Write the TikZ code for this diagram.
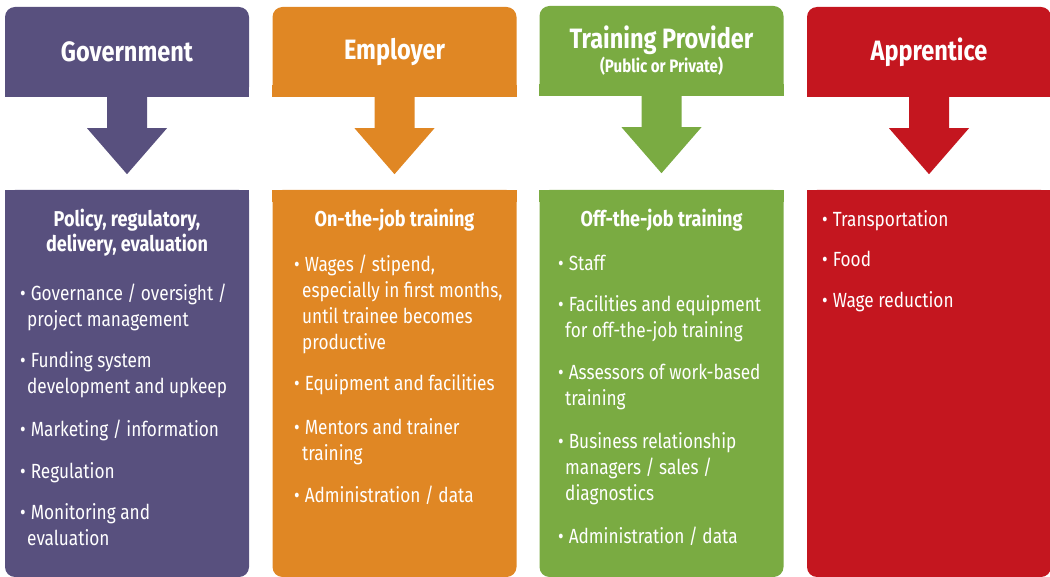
\documentclass[tikz,border=0pt]{standalone}
\usepackage{fontspec}
\setmainfont{Fira Sans}[FakeStretch=0.84]
\usetikzlibrary{calc,backgrounds,positioning}

\definecolor{govcol}{RGB}{88,80,126}
\definecolor{empcol}{RGB}{224,135,36}
\definecolor{procol}{RGB}{122,171,66}
\definecolor{appcol}{RGB}{196,22,31}

% big downward arrow under a header: #1 header node, #2 colour
\newcommand{\downblock}[2]{%
  \fill[#2] ($(#1.south)+(-20,0)$) -- ++(0,31) -- ++(-20,0) -- ($(#1.south)+(0,77)$)
    -- ($(#1.south)+(40,31)$) -- ++(-20,0) -- ($(#1.south)+(20,0)$) -- cycle;}
\newcommand{\bul}{\textbullet\hspace{5pt}}

\begin{document}
\begin{tikzpicture}[x=1pt,y=-1pt]
          \useasboundingbox (0,0) rectangle (1050,577);

          \tikzstyle{head}=[rounded corners=10pt,minimum width=244pt,minimum height=90pt,inner sep=0pt,text=white,align=center,font=\bfseries\fontsize{28}{28}\selectfont]
          \tikzstyle{body}=[rounded corners=10pt,minimum width=244pt,minimum height=387pt,inner sep=0pt]
          \tikzstyle{title}=[anchor=base,align=center,inner sep=0pt,text=white,font=\bfseries\fontsize{21.5}{25}\selectfont]
          \tikzstyle{item}=[anchor=base west,align=left,inner sep=0pt,text=white,font=\fontsize{20.5}{26}\selectfont]

          % headers
          \node[head,fill=govcol] (gov) at (127,52) {Government};
          \node[head,fill=empcol] (emp) at (394.5,52) {Employer};
          \node[head,fill=procol] (pro) at (661.5,51) {Training Provider\\[-4pt]{\fontsize{18}{18}\selectfont(Public or Private)}};
          \node[head,fill=appcol] (app) at (929,52) {Apprentice};

          % bodies
          \node[body,fill=govcol] (govbody) at (127,383.5) {};
          \node[body,fill=empcol] (empbody) at (394.5,383.5) {};
          \node[body,fill=procol] (probody) at (661.5,383.5) {};
          \node[body,fill=appcol] (appbody) at (929,383.5) {};

          % square corners (header bottoms, body tops)
          \begin{scope}[on background layer]
          \foreach \n/\c in {gov/govcol,emp/empcol,pro/procol,app/appcol}{
            \fill[\c] (\n.south west) rectangle ++(12,-12);
            \fill[\c] (\n.south east) rectangle ++(-12,-12);
            \fill[\c] (\n body.north west) rectangle ++(12,12);
            \fill[\c] (\n body.north east) rectangle ++(-12,12);
          }
          \end{scope}

          % arrows
          \downblock{gov}{govcol}
          \downblock{emp}{empcol}
          \downblock{pro}{procol}
          \downblock{app}{appcol}

          % government (multi-line nodes sit on their last line)
          \node[title] (govtitle) at (127,252) {Policy, regulatory,\\delivery, evaluation};
          \node[item] (gov1) at (20,327) {\bul Governance / oversight /\\\hspace*{7pt}project management};
          \node[item] (gov2) at (20,394) {\bul Funding system\\\hspace*{7pt}development and upkeep};
          \node[item] (gov3) at (20,436) {\bul Marketing / information};
          \node[item] (gov4) at (20,478) {\bul Regulation};
          \node[item] (gov5) at (20,545) {\bul Monitoring and\\\hspace*{7pt}evaluation};

          % employer
          \node[title] (emptitle) at (394.5,227) {On-the-job training};
          \node[item] (emp1) at (294,350) {\bul Wages / stipend,\\\hspace*{8pt}especially in first months,\\\hspace*{8pt}until trainee becomes\\\hspace*{8pt}productive};
          \node[item] (emp2) at (294,391) {\bul Equipment and facilities};
          \node[item] (emp3) at (294,460) {\bul Mentors and trainer\\\hspace*{8pt}training};
          \node[item] (emp4) at (294,502) {\bul Administration / data};

          % training provider
          \node[title] (protitle) at (661.5,227) {Off-the-job training};
          \node[item] (pro1) at (558,271) {\bul Staff};
          \node[item] (pro2) at (558,338) {\bul Facilities and equipment\\\hspace*{7pt}for off-the-job training};
          \node[item] (pro3) at (558,406) {\bul Assessors of work-based\\\hspace*{7pt}training};
          \node[item] (pro4) at (558,500) {\bul Business relationship\\\hspace*{7pt}managers / sales /\\\hspace*{7pt}diagnostics};
          \node[item] (pro5) at (558,543) {\bul Administration / data};

          % apprentice
          \node[item] (app1) at (822,227) {\bul Transportation};
          \node[item] (app2) at (822,267) {\bul Food};
          \node[item] (app3) at (822,308) {\bul Wage reduction};
\end{tikzpicture}
\end{document}
